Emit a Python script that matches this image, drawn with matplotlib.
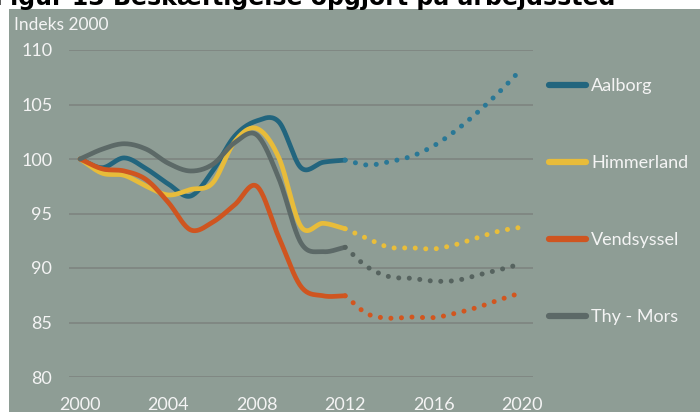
import numpy as np
import matplotlib
matplotlib.use("Agg")
import matplotlib.pyplot as plt
from matplotlib.patches import Rectangle
from matplotlib.lines import Line2D

# ---- data ----
years_hist = list(range(2000, 2013))
years_proj = list(range(2012, 2021))
series = ["Aalborg", "Himmerland", "Vendsyssel", "Thy - Mors"]

aalborg_hist = [100, 99.2, 100.1, 99.1, 97.7, 96.6, 98.9, 102.1, 103.5, 103.4, 99.2, 99.7, 99.9]
himmerland_hist = [100, 98.7, 98.5, 97.5, 96.7, 97.2, 97.8, 101.6, 102.8, 100.1, 93.8, 94.1, 93.6]
vendsyssel_hist = [100, 99.1, 98.9, 98.1, 96.0, 93.5, 94.2, 95.8, 97.5, 92.8, 88.3, 87.45, 87.45]
thymors_hist = [100, 100.9, 101.4, 100.9, 99.6, 98.9, 99.5, 101.5, 102.2, 98.2, 92.3, 91.5, 91.9]

aalborg_proj = [99.9, 99.45, 99.75, 100.25, 101.2, 102.6, 104.3, 106.2, 108.3]
himmerland_proj = [93.6, 92.7, 91.9, 91.85, 91.75, 92.15, 92.8, 93.4, 93.75]
vendsyssel_proj = [87.45, 85.8, 85.4, 85.5, 85.45, 85.85, 86.4, 87.1, 87.75]
thymors_proj = [91.9, 90.1, 89.2, 89.05, 88.8, 88.85, 89.35, 89.85, 90.4]

hist = [aalborg_hist, himmerland_hist, vendsyssel_hist, thymors_hist]
proj = [aalborg_proj, himmerland_proj, vendsyssel_proj, thymors_proj]

colors_solid = ["#22657E", "#E8BC3A", "#CF5520", "#5C6967"]
colors_dot = ["#2A7896", "#E9BE3A", "#D2561F", "#56635F"]

xticks = [2000, 2004, 2008, 2012, 2016, 2020]
yticks = [80, 85, 90, 95, 100, 105, 110]

BG = "#8E9D95"
TXT = "#F4F4F4"
FONT = "Lato"


def smooth(x, y, n=20):
    """Catmull-Rom curve through the points (similar to Excel smoothed lines)."""
    x = np.asarray(x, float)
    y = np.asarray(y, float)
    px = np.concatenate([[2 * x[0] - x[1]], x, [2 * x[-1] - x[-2]]])
    py = np.concatenate([[2 * y[0] - y[1]], y, [2 * y[-1] - y[-2]]])
    xs, ys = [], []
    t = np.linspace(0, 1, n, endpoint=False)
    for i in range(1, len(px) - 2):
        for arr, out in ((px, xs), (py, ys)):
            p0, p1, p2, p3 = arr[i - 1], arr[i], arr[i + 1], arr[i + 2]
            m1 = (p2 - p0) / 2
            m2 = (p3 - p1) / 2
            h00 = 2 * t**3 - 3 * t**2 + 1
            h10 = t**3 - 2 * t**2 + t
            h01 = -2 * t**3 + 3 * t**2
            h11 = t**3 - t**2
            out.extend(h00 * p1 + h10 * m1 + h01 * p2 + h11 * m2)
    xs.append(x[-1])
    ys.append(y[-1])
    return np.array(xs), np.array(ys)


fig = plt.figure(figsize=(7.0, 4.12), dpi=100, facecolor="white")
fig.patches.append(Rectangle((9 / 700, 0), 1 - 9 / 700, 1 - 9 / 412,
                             transform=fig.transFigure, facecolor=BG,
                             edgecolor="none", zorder=-5))

fig.text(-6 / 700, 1 - 4.5 / 412, "Figur 13 Beskæftigelse opgjort på arbejdssted",
         fontsize=17, fontweight="bold", color="black", va="baseline",
         ha="left", family="DejaVu Sans", zorder=-4)

ax = fig.add_axes([69 / 700, 1 - 377 / 412, (533 - 69) / 700, (377 - 50) / 412])
ax.set_zorder(2)
ax.set_facecolor("none")
ax.set_xlim(1999.5, 2020.5)
ax.set_ylim(80, 110)
ax.set_yticks(yticks)
ax.set_xticks(xticks)
ax.grid(axis="y", color="#7C827E", linewidth=1.1, zorder=0)
for s in ax.spines.values():
    s.set_visible(False)
ax.tick_params(length=0, colors=TXT, labelsize=13)
ax.tick_params(axis="y", pad=12)
ax.tick_params(axis="x", pad=14.5)
for lab in ax.get_xticklabels() + ax.get_yticklabels():
    lab.set_family(FONT)

handles = []
for name, h, p, cs, cd in zip(series, hist, proj, colors_solid, colors_dot):
    sx, sy = smooth(years_hist, h)
    ln, = ax.plot(sx, sy, color=cs, linewidth=3.4, solid_capstyle="round",
                  solid_joinstyle="round", zorder=3, label=name)
    px_, py_ = smooth(years_proj, p)
    ax.plot(px_, py_, color=cd, linewidth=3.6, linestyle=(0, (0.01, 2.1)),
            dash_capstyle="round", zorder=3)
    handles.append(ln)

fig.text(14 / 700, 1 - 25 / 412, "Indeks 2000", color=TXT, fontsize=12.5,
         family=FONT, va="center", ha="left", zorder=3)

leg = ax.legend(handles=[Line2D([], [], color=c, linewidth=4.5, solid_capstyle="round")
                         for c in colors_solid],
                labels=series, loc="upper left",
                bbox_to_anchor=(549 / 700, 1 - 78 / 412),
                bbox_transform=fig.transFigure, frameon=False,
                handlelength=2.05, handletextpad=0.3, labelspacing=3.38,
                prop={"family": FONT, "size": 13}, borderaxespad=0, borderpad=0)
for t in leg.get_texts():
    t.set_color(TXT)

fig.savefig("out.png", dpi=100, facecolor="white")
